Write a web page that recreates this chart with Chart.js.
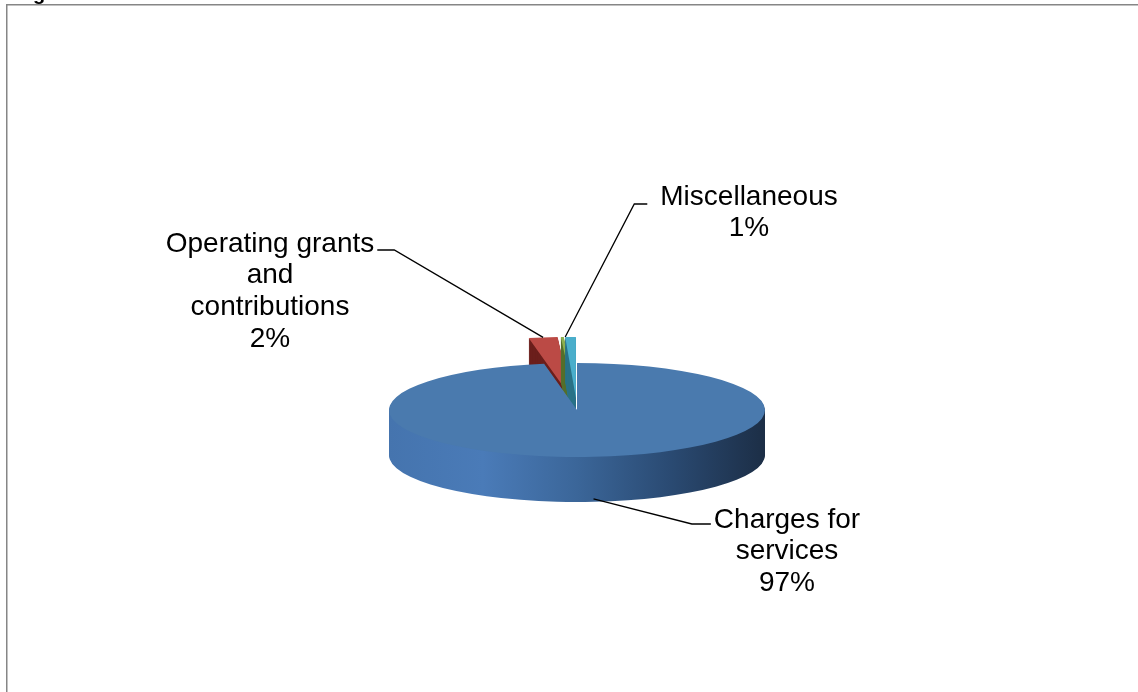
<!DOCTYPE html>
<html>
<head>
<meta charset="utf-8">
<style>
  html, body { margin: 0; padding: 0; background: #ffffff; }
  #wrap { width: 1138px; height: 692px; position: relative; }
</style>
<script src="https://cdn.jsdelivr.net/npm/chart.js@4.4.1/dist/chart.umd.min.js"></script>
</head>
<body>
<div id="wrap"><canvas id="c" width="1138" height="692"></canvas></div>
<script>
// ---- data ----
const categories = ["Charges for services", "Operating grants and contributions", "Capital grants and contributions", "Miscellaneous"];
const shares = [97.2, 1.9, 0.2, 0.7];
const percentLabels = ["97%", "2%", "", "1%"];
const labelLines = [["Charges for", "services", "97%"], ["Operating grants", "and", "contributions", "2%"], [], ["Miscellaneous", "1%"]];
const exploded = [false, true, true, true];
const topColors = ["#4a7aae", "#bb4a45", "#8db04f", "#4aaecb"];
const sideColors = [null, "#6b1e1b", "#56702c", "#2b7388"];

const K = 0.25;        // vertical flattening of the pie
const DEPTH = 45;      // thickness of the pie in px
const EXPLODE_T = 48;  // explosion shift (pie space)
const EXPLODE_S = 1.3; // apparent enlargement of the exploded slices
const FONT = '28px "Liberation Sans", Arial, sans-serif';
const LINE_H = 31.7;

function flatten(ctx, cy) {
  ctx.translate(0, cy);
  ctx.scale(1, K);
  ctx.translate(0, -cy);
}
function explodeTf(ctx, arc, i) {
  if (!exploded[i]) return;
  const half = (arc.startAngle + arc.endAngle) / 2;
  ctx.translate(arc.x + Math.cos(half) * EXPLODE_T, arc.y + Math.sin(half) * EXPLODE_T);
  ctx.scale(EXPLODE_S, EXPLODE_S);
  ctx.translate(-arc.x, -arc.y);
}
function rimPoint(arc, i, angle, extra) {
  let px, py;
  if (exploded[i]) {
    const half = (arc.startAngle + arc.endAngle) / 2;
    px = arc.x + Math.cos(half) * EXPLODE_T + Math.cos(angle) * arc.outerRadius * EXPLODE_S;
    py = arc.y + Math.sin(half) * EXPLODE_T + Math.sin(angle) * arc.outerRadius * EXPLODE_S;
  } else {
    px = arc.x + Math.cos(angle) * arc.outerRadius;
    py = arc.y + Math.sin(angle) * arc.outerRadius;
  }
  return { x: px, y: arc.y + (py - arc.y) * K + (extra || 0) };
}

const pie3d = {
  id: 'pie3d',
  beforeDatasetsDraw(chart) {
    const ctx = chart.ctx;
    const arcs = chart.getDatasetMeta(0).data;
    const cy = arcs[0].y;
    const cx = arcs[0].x;
    const r = arcs[0].outerRadius;
    const grad = ctx.createLinearGradient(cx - r, 0, cx + r, 0);
    grad.addColorStop(0, '#4574ae');
    grad.addColorStop(0.25, '#4a7bb8');
    grad.addColorStop(0.5, '#3b6699');
    grad.addColorStop(0.75, '#2a4a72');
    grad.addColorStop(1, '#1c2e46');
    const order = arcs.map((a, i) => i).sort((a, b) => (exploded[b] ? 1 : 0) - (exploded[a] ? 1 : 0));
    for (const i of order) {
      const arc = arcs[i];
      const orig = arc.options;
      const side = sideColors[i] || grad;
      for (let d = DEPTH; d >= 1; d--) {
        ctx.save();
        ctx.translate(0, d);
        flatten(ctx, cy);
        explodeTf(ctx, arc, i);
        arc.options = Object.assign({}, orig, { backgroundColor: side, borderWidth: 0 });
        arc.draw(ctx);
        ctx.restore();
      }
      arc.options = orig;
      ctx.save();
      flatten(ctx, cy);
      explodeTf(ctx, arc, i);
      arc.draw(ctx);
      ctx.restore();
    }
    return false;
  },
  afterDraw(chart) {
    const ctx = chart.ctx;
    const arcs = chart.getDatasetMeta(0).data;
    ctx.save();
    // frame
    ctx.strokeStyle = '#868686';
    ctx.lineWidth = 1.5;
    ctx.beginPath();
    ctx.moveTo(1138, 4.75);
    ctx.lineTo(6.75, 4.75);
    ctx.lineTo(6.75, 692);
    ctx.stroke();
    // clipped title remnant
    ctx.fillStyle = '#000';
    ctx.font = 'bold 20px "Liberation Sans", Arial, sans-serif';
    ctx.textAlign = 'left';
    ctx.textBaseline = 'alphabetic';
    ctx.fillText('g', 33, -0.3);

    // labels
    ctx.font = FONT;
    ctx.textAlign = 'center';
    ctx.textBaseline = 'middle';
    ctx.fillStyle = '#000';
    const blocks = {
      0: { x: 787, y: 520 },
      1: { x: 270, y: 244 },
      3: { x: 749, y: 197 }
    };
    for (const k in blocks) {
      const b = blocks[k];
      labelLines[k].forEach((t, j) => ctx.fillText(t, b.x, b.y + j * LINE_H));
    }
    // leader lines
    ctx.strokeStyle = '#000';
    ctx.lineWidth = 1.3;
    const a0 = arcs[0], a1 = arcs[1], a3 = arcs[3];
    const mid = a => (a.startAngle + a.endAngle) / 2;
    const p0 = rimPoint(a0, 0, mid(a0), DEPTH - 3);
    const p1 = rimPoint(a1, 1, mid(a1), 0);
    const p3 = rimPoint(a3, 3, a3.startAngle, 0);
    const w0 = ctx.measureText(labelLines[0][0]).width;
    const w1 = ctx.measureText(labelLines[1][0]).width;
    const w3 = ctx.measureText(labelLines[3][0]).width;
    const leaders = [
      [[787 - w0 / 2 - 3, 524], [787 - w0 / 2 - 22, 524], [p0.x, p0.y]],
      [[270 + w1 / 2 + 3, 250], [270 + w1 / 2 + 20, 250], [p1.x, p1.y]],
      [[749 - w3 / 2 - 13, 204], [749 - w3 / 2 - 26, 204], [p3.x, p3.y]]
    ];
    for (const L of leaders) {
      ctx.beginPath();
      ctx.moveTo(L[0][0], L[0][1]);
      ctx.lineTo(L[1][0], L[1][1]);
      ctx.lineTo(L[2][0], L[2][1]);
      ctx.stroke();
    }
    ctx.restore();
  }
};

new Chart(document.getElementById('c'), {
  type: 'pie',
  data: {
    labels: categories,
    datasets: [{
      data: shares,
      backgroundColor: topColors,
      borderWidth: 0
    }]
  },
  options: {
    responsive: false,
    animation: false,
    radius: 188,
    layout: { padding: { left: 16, right: 0, top: 128, bottom: 0 } },
    plugins: { legend: { display: false }, tooltip: { enabled: false } },
    events: []
  },
  plugins: [pie3d]
});
</script>
</body>
</html>
